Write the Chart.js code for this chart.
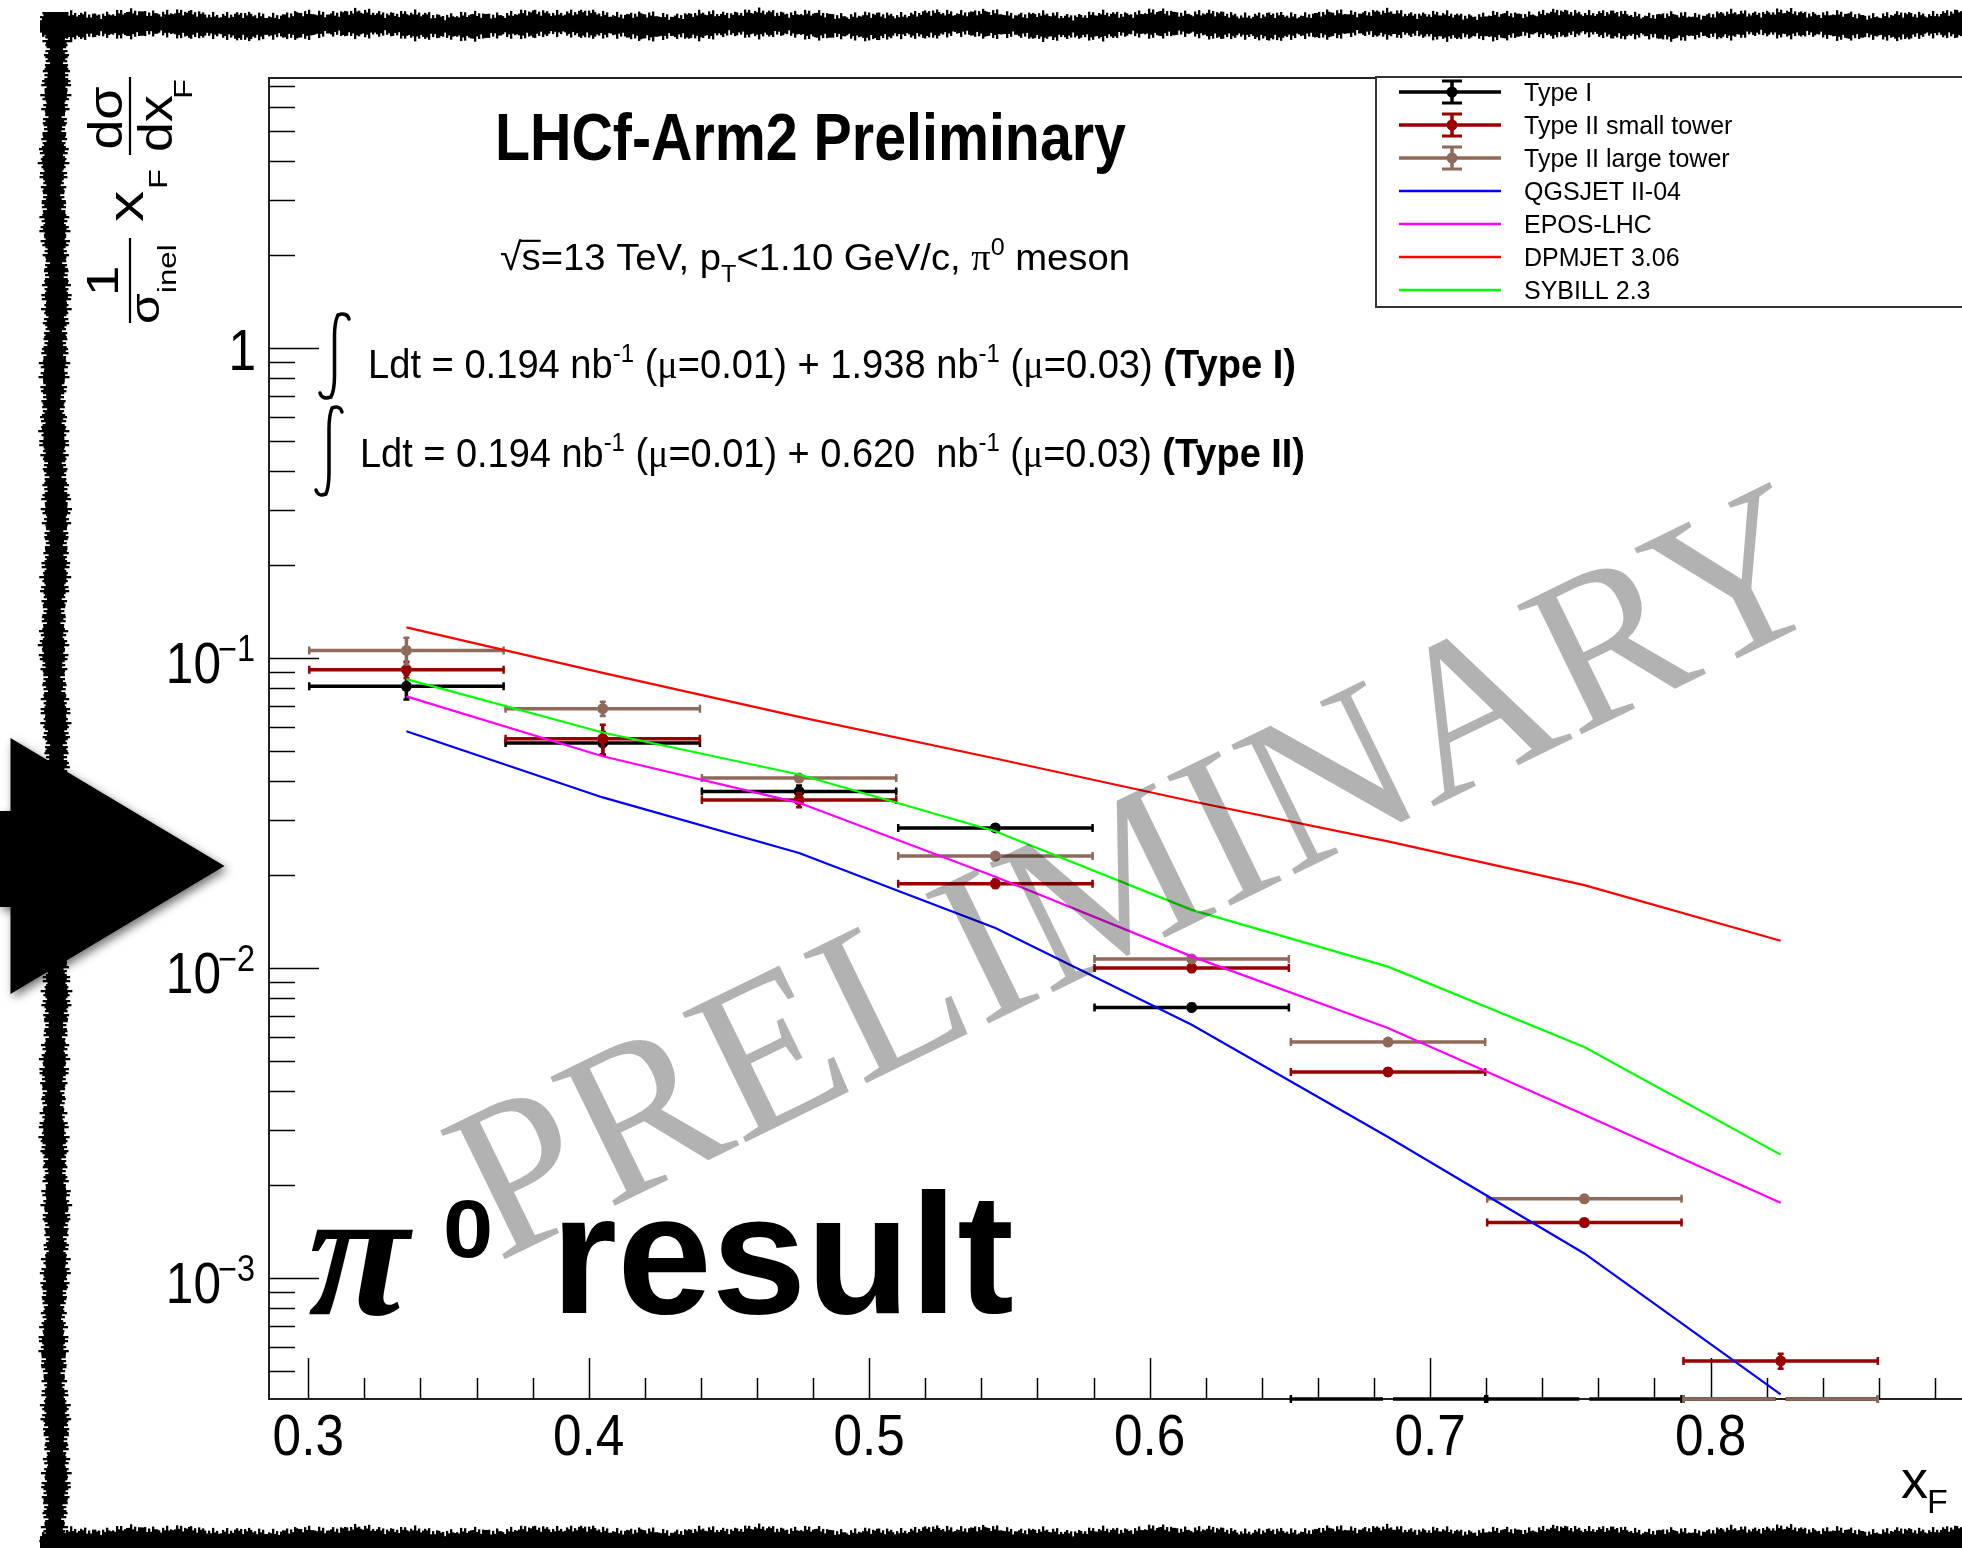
<!DOCTYPE html>
<html>
<head>
<meta charset="utf-8">
<script src="https://cdn.jsdelivr.net/npm/chart.js@4.4.1/dist/chart.umd.min.js"></script>
<style>
  html, body { margin: 0; padding: 0; background: #fff; overflow: hidden; }
  #Wrap { position: absolute; left: 0; top: 0; width: 2100px; height: 1548px; }
</style>
</head>
<body>
<div id="Wrap"><canvas id="myChart"></canvas></div>
<script>
// * Data
const binEdges = [0.30, 0.37, 0.44, 0.51, 0.58, 0.65, 0.72, 0.79, 0.86];
const xF = [0.335, 0.405, 0.475, 0.545, 0.615, 0.685, 0.755, 0.825];

const typeI = [0.081, 0.0532, 0.0371, 0.0283, 0.00746, 0, 0, 0];
const typeIErr = [0.0075, 0.0045, 0.0017, 0.0006, 0.0002, 0, 0, 0];
const typeIISmall = [0.0917, 0.0549, 0.0348, 0.0187, 0.0100, 0.00462, 0.00151, 0.00054];
const typeIISmallErr = [0.0055, 0.006, 0.0018, 0.0006, 0.0003, 0.00012, 0.00004, 0.00003];
const typeIILarge = [0.1058, 0.0686, 0.0410, 0.02296, 0.0107, 0.00577, 0.0018, 0];
const typeIILargeErr = [0.0105, 0.0036, 0.0009, 0.0004, 0.0002, 0.0001, 0.00004, 0];

const qgsjet = [0.058, 0.0355, 0.0235, 0.01346, 0.00656, 0.00285, 0.0012, 0.000421];
const epos = [0.0752, 0.0482, 0.0341, 0.0197, 0.0109, 0.0064, 0.00336, 0.00175];
const dpmjet = [0.1256, 0.0895, 0.0646, 0.0474, 0.0345, 0.0256, 0.0185, 0.01224];
const sybill = [0.0855, 0.0575, 0.0421, 0.0276, 0.0154, 0.0101, 0.00556, 0.0025];

const xTickValues = [0.3, 0.4, 0.5, 0.6, 0.7, 0.8];
const xTickLabels = ["0.3", "0.4", "0.5", "0.6", "0.7", "0.8"];
const yTickValues = [0.001, 0.01, 0.1, 1];
const yTickExponents = ["\u22123", "\u22122", "\u22121", ""];

const SANS = "'Liberation Sans', Arial, sans-serif";
const SERIF = "'Liberation Serif', 'Times New Roman', serif";

// * Helpers
function points(values) {
  return values.map((v, i) => ({ x: xF[i], y: v }));
}

function dataSet(label, values, errors, color, order) {
  return {
    label: label,
    data: points(values),
    yErr: errors,
    showLine: false,
    borderColor: color,
    backgroundColor: color,
    pointRadius: (c) => (c.raw && c.raw.y > 0 ? 5.5 : 0),
    pointBorderWidth: 0,
    order: order,
  };
}

function modelSet(label, values, color) {
  return {
    label: label,
    data: points(values),
    showLine: true,
    borderColor: color,
    backgroundColor: color,
    borderWidth: 2.2,
    pointRadius: 0,
    tension: 0,
    order: 1,
  };
}

function text(ctx, s, x, y, font, sx, align, sy) {
  ctx.save();
  ctx.font = font;
  ctx.textAlign = align || "left";
  ctx.textBaseline = "alphabetic";
  ctx.translate(x, y);
  ctx.scale(sx || 1, sy || 1);
  ctx.fillText(s, 0, 0);
  ctx.restore();
}

// draws a run of text pieces squeezed into targetWidth
function richText(ctx, runs, x, y, targetWidth, sy) {
  let total = 0;
  runs.forEach((r) => {
    ctx.font = r.f;
    r.w = ctx.measureText(r.t).width;
    total += r.w;
  });
  const sx = targetWidth ? targetWidth / total : 1;
  ctx.save();
  ctx.translate(x, y);
  ctx.scale(sx, sy || 1);
  ctx.textAlign = "left";
  ctx.textBaseline = "alphabetic";
  let cx = 0;
  runs.forEach((r) => {
    ctx.font = r.f;
    ctx.fillText(r.t, cx, r.dy || 0);
    if (r.over) {
      ctx.lineWidth = 2;
      ctx.beginPath();
      ctx.moveTo(cx - 2, -27);
      ctx.lineTo(cx + r.w, -27);
      ctx.stroke();
    }
    cx += r.w;
  });
  ctx.restore();
}

function integralSign(ctx, x0, yTop, x1, yBot) {
  const w = x1 - x0;
  ctx.save();
  ctx.lineWidth = 3.5;
  ctx.lineCap = "round";
  ctx.beginPath();
  ctx.moveTo(x1, yTop + 7);
  ctx.quadraticCurveTo(x1 - 2, yTop, x0 + w * 0.62, yTop + 3);
  ctx.quadraticCurveTo(x0 + w * 0.5, yTop + 10, x0 + w * 0.5, yTop + 24);
  ctx.lineTo(x0 + w * 0.5, yBot - 24);
  ctx.quadraticCurveTo(x0 + w * 0.5, yBot - 10, x0 + w * 0.38, yBot - 3);
  ctx.quadraticCurveTo(x0 + 2, yBot, x0, yBot - 7);
  ctx.stroke();
  ctx.restore();
}

function roughH(ctx, x0, x1, yc, half) {
  for (let x = x0; x < x1; x += 2) {
    const a = half + 2.2 * Math.sin(x * 1.37) + 1.6 * Math.sin(x * 0.53 + 2) + 1.2 * Math.sin(x * 0.11);
    const o = 1.5 * Math.sin(x * 0.031);
    ctx.fillRect(x, yc + o - a, 2.3, 2 * a);
  }
}

function roughV(ctx, y0, y1, xc, half) {
  for (let y = y0; y < y1; y += 2) {
    const a = half + 2.2 * Math.sin(y * 1.29) + 1.6 * Math.sin(y * 0.47 + 1) + 1.2 * Math.sin(y * 0.09);
    const o = 1.5 * Math.sin(y * 0.027);
    ctx.fillRect(xc + o - a, y, 2 * a, 2.3);
  }
}

// * Plugins
const rootFrame = {
  id: "rootFrame",
  beforeDatasetsDraw(chart) {
    const ctx = chart.ctx;
    const a = chart.chartArea;
    const xs = chart.scales.x;
    const ys = chart.scales.y;
    ctx.save();
    ctx.strokeStyle = "#222";
    ctx.lineWidth = 2;
    ctx.beginPath();
    ctx.moveTo(a.right, a.top);
    ctx.lineTo(a.left, a.top);
    ctx.lineTo(a.left, a.bottom);
    ctx.lineTo(a.right, a.bottom);
    ctx.stroke();

    ctx.lineWidth = 1.5;
    ctx.strokeStyle = "#000";
    // x ticks every 0.02
    for (let j = 0; j <= 30; j++) {
      const v = 0.3 + 0.02 * j;
      const px = Math.round(xs.getPixelForValue(v)) + 0.5;
      const len = j % 5 === 0 ? 41 : 21;
      ctx.beginPath();
      ctx.moveTo(px, a.bottom);
      ctx.lineTo(px, a.bottom - len);
      ctx.stroke();
    }
    // y ticks log
    for (let e = -4; e <= 0; e++) {
      for (let k = 1; k <= 9; k++) {
        const v = k * Math.pow(10, e);
        if (v < ys.min || v > ys.max) continue;
        const py = Math.round(ys.getPixelForValue(v)) + 0.5;
        const len = k === 1 ? 50 : 26;
        ctx.beginPath();
        ctx.moveTo(a.left, py);
        ctx.lineTo(a.left + len, py);
        ctx.stroke();
      }
    }

    // tick labels
    ctx.fillStyle = "#000";
    xTickValues.forEach((v, i) => {
      text(ctx, xTickLabels[i], xs.getPixelForValue(v), 1455, "57px " + SANS, 0.9, "center");
    });
    yTickValues.forEach((v, i) => {
      const py = ys.getPixelForValue(v);
      if (yTickExponents[i] === "") {
        text(ctx, "1", 256, py + 22, "57px " + SANS, 0.87, "right");
      } else {
        text(ctx, yTickExponents[i], 255, py + 3, "36px " + SANS, 0.9, "right");
        text(ctx, "10", 221, py + 25, "57px " + SANS, 0.87, "right");
      }
    });
    ctx.restore();
  },
};

const errorBars = {
  id: "errorBars",
  beforeDatasetDraw(chart, args) {
    const ds = chart.data.datasets[args.index];
    if (!ds.yErr) return;
    const ctx = chart.ctx;
    const xs = chart.scales.x;
    const ys = chart.scales.y;
    const gap = 5;
    ctx.save();
    ctx.strokeStyle = ds.borderColor;
    ds.data.forEach((p, i) => {
      const py = p.y > 0 ? ys.getPixelForValue(p.y) : ys.bottom;
      const xl = xs.getPixelForValue(binEdges[i]);
      const xr = xs.getPixelForValue(binEdges[i + 1]);
      const xc = xs.getPixelForValue(p.x);
      ctx.lineWidth = 3.5;
      ctx.beginPath();
      ctx.moveTo(xl, py);
      ctx.lineTo(xc - gap, py);
      ctx.moveTo(xc + gap, py);
      ctx.lineTo(xr, py);
      ctx.stroke();
      ctx.lineWidth = 2.5;
      ctx.beginPath();
      ctx.moveTo(xl + 1, py - 4);
      ctx.lineTo(xl + 1, py + 4);
      ctx.moveTo(xr - 1, py - 4);
      ctx.lineTo(xr - 1, py + 4);
      ctx.stroke();
      const err = ds.yErr[i];
      if (p.y > 0 && err > 0) {
        const yt = ys.getPixelForValue(p.y + err);
        const yb = ys.getPixelForValue(p.y - err);
        ctx.lineWidth = 3.5;
        ctx.beginPath();
        ctx.moveTo(xc, yt);
        ctx.lineTo(xc, yb);
        ctx.stroke();
        ctx.lineWidth = 2.5;
        ctx.beginPath();
        ctx.moveTo(xc - 3, yt);
        ctx.lineTo(xc + 3, yt);
        ctx.moveTo(xc - 3, yb);
        ctx.lineTo(xc + 3, yb);
        ctx.stroke();
      }
    });
    ctx.restore();
  },
};

const overlay = {
  id: "overlay",
  afterDraw(chart) {
    const ctx = chart.ctx;
    ctx.save();
    ctx.fillStyle = "#000";
    ctx.strokeStyle = "#000";

    // legend
    ctx.fillStyle = "#fff";
    ctx.fillRect(1376, 77, 800, 230);
    ctx.strokeStyle = "#333";
    ctx.lineWidth = 2;
    ctx.strokeRect(1376, 77, 800, 230);
    chart.data.datasets.forEach((ds, i) => {
      const y = 92 + i * 33;
      ctx.strokeStyle = ds.borderColor;
      ctx.fillStyle = ds.borderColor;
      if (ds.yErr) {
        ctx.lineWidth = 3.5;
        ctx.beginPath();
        ctx.moveTo(1399, y);
        ctx.lineTo(1501, y);
        ctx.moveTo(1452, y - 11);
        ctx.lineTo(1452, y + 11);
        ctx.stroke();
        ctx.lineWidth = 3;
        ctx.beginPath();
        ctx.moveTo(1442, y - 11);
        ctx.lineTo(1462, y - 11);
        ctx.moveTo(1442, y + 11);
        ctx.lineTo(1462, y + 11);
        ctx.stroke();
        ctx.beginPath();
        ctx.arc(1452, y, 5.5, 0, Math.PI * 2);
        ctx.fill();
      } else {
        ctx.lineWidth = 2.5;
        ctx.beginPath();
        ctx.moveTo(1399, y);
        ctx.lineTo(1501, y);
        ctx.stroke();
      }
      ctx.fillStyle = "#000";
      text(ctx, ds.label, 1524, y + 9, "25px " + SANS, 1);
    });

    ctx.fillStyle = "#000";
    ctx.strokeStyle = "#000";

    // title and texts
    richText(ctx, [{ t: "LHCf-Arm2 Preliminary", f: "bold 66px " + SANS }], 495, 160, 631);
    richText(ctx, [
      { t: "\u221A", f: "36px " + SANS },
      { t: "s", f: "35px " + SANS, over: true },
      { t: "=13 TeV, p", f: "35px " + SANS },
      { t: "T", f: "23px " + SANS, dy: 11 },
      { t: "<1.10 GeV/c, ", f: "35px " + SANS },
      { t: "\u03C0", f: "35px " + SERIF },
      { t: "0", f: "23px " + SANS, dy: -14 },
      { t: " meson", f: "35px " + SANS },
    ], 500, 270, 630, 1.08);

    integralSign(ctx, 320, 312, 349, 400);
    richText(ctx, [
      { t: "Ldt = 0.194 nb", f: "35px " + SANS },
      { t: "-1", f: "22px " + SANS, dy: -14 },
      { t: " (", f: "35px " + SANS },
      { t: "\u03BC", f: "35px " + SERIF },
      { t: "=0.01) + 1.938 nb", f: "35px " + SANS },
      { t: "-1", f: "22px " + SANS, dy: -14 },
      { t: " (", f: "35px " + SANS },
      { t: "\u03BC", f: "35px " + SERIF },
      { t: "=0.03) ", f: "35px " + SANS },
      { t: "(Type I)", f: "bold 35px " + SANS },
    ], 368, 378, 928, 1.15);

    integralSign(ctx, 316, 405, 342, 497);
    richText(ctx, [
      { t: "Ldt = 0.194 nb", f: "35px " + SANS },
      { t: "-1", f: "22px " + SANS, dy: -14 },
      { t: " (", f: "35px " + SANS },
      { t: "\u03BC", f: "35px " + SERIF },
      { t: "=0.01) + 0.620  nb", f: "35px " + SANS },
      { t: "-1", f: "22px " + SANS, dy: -14 },
      { t: " (", f: "35px " + SANS },
      { t: "\u03BC", f: "35px " + SERIF },
      { t: "=0.03) ", f: "35px " + SANS },
      { t: "(Type II)", f: "bold 35px " + SANS },
    ], 360, 467, 945, 1.15);

    // x axis title
    text(ctx, "x", 1901, 1498, "54px " + SANS, 1);
    text(ctx, "F", 1927, 1513, "34px " + SANS, 1);

    // y axis title, rotated
    ctx.save();
    ctx.rotate(-Math.PI / 2);
    const rt = (s, font, px, py, align, sx) => text(ctx, s, px, py, font, sx || 1.25, align);
    ctx.lineWidth = 2.2;
    ctx.beginPath();
    ctx.moveTo(-323, 130);
    ctx.lineTo(-238, 130);
    ctx.moveTo(-155, 130);
    ctx.lineTo(-77, 130);
    ctx.stroke();
    rt("1", "44px " + SANS, -281, 118, "center");
    rt("\u03C3", "40px " + SANS, -324, 159, "left");
    rt("inel", "25px " + SANS, -293, 176, "left");
    rt("x", "50px " + SANS, -222, 143, "left");
    rt("F", "26px " + SANS, -189, 167, "left");
    rt("d\u03C3", "48px " + SANS, -118, 122, "center", 1.12);
    rt("dx", "48px " + SANS, -152, 172, "left", 1.12);
    rt("F", "26px " + SANS, -99, 192, "left");
    ctx.restore();

    // watermark
    ctx.save();
    ctx.translate(1168, 936);
    ctx.rotate((-26 * Math.PI) / 180);
    ctx.fillStyle = "rgba(0,0,0,0.3)";
    ctx.font = "220px " + SERIF;
    ctx.textAlign = "center";
    ctx.fillText("PRELIMINARY", 0, 0);
    ctx.restore();

    // big label
    ctx.fillStyle = "#000";
    text(ctx, "\u03C0", 308, 1314, "italic bold 185px " + SERIF, 1);
    text(ctx, "0", 443, 1257, "bold 82px " + SANS, 1.1);
    text(ctx, "result", 551, 1313, "bold 170px " + SANS, 1);

    // rough frame
    roughH(ctx, 40, 2100, 25, 11);
    roughV(ctx, 12, 1548, 55, 11);
    roughH(ctx, 40, 2100, 1543, 13);

    // arrow
    ctx.save();
    ctx.shadowColor = "rgba(0,0,0,0.55)";
    ctx.shadowBlur = 10;
    ctx.shadowOffsetX = 3;
    ctx.shadowOffsetY = 4;
    ctx.beginPath();
    ctx.moveTo(0, 811);
    ctx.lineTo(10.5, 811);
    ctx.lineTo(10.5, 738);
    ctx.lineTo(224.5, 866);
    ctx.lineTo(10.5, 994);
    ctx.lineTo(10.5, 907);
    ctx.lineTo(0, 907);
    ctx.closePath();
    ctx.fill();
    ctx.restore();

    ctx.restore();
  },
};

// * Chart
const Canvas = document.getElementById("myChart").getContext("2d");

const data = {
  datasets: [
    dataSet("Type I", typeI, typeIErr, "#000000", 4),
    dataSet("Type II small tower", typeIISmall, typeIISmallErr, "#990000", 3),
    dataSet("Type II large tower", typeIILarge, typeIILargeErr, "#8f6a5a", 2),
    modelSet("QGSJET II-04", qgsjet, "#0000ff"),
    modelSet("EPOS-LHC", epos, "#ff00ff"),
    modelSet("DPMJET 3.06", dpmjet, "#ff0000"),
    modelSet("SYBILL 2.3", sybill, "#00ff00"),
  ],
};

const config = {
  type: "scatter",
  data: data,
  options: {
    responsive: true,
    maintainAspectRatio: false,
    animation: false,
    layout: { padding: { left: 269, top: 78, right: 109, bottom: 149 } },
    scales: {
      x: { type: "linear", min: 0.286, max: 0.9, display: false },
      y: { type: "logarithmic", min: 4.07e-4, max: 7.43, display: false },
    },
    plugins: {
      legend: { display: false },
      tooltip: { enabled: false },
    },
  },
  plugins: [rootFrame, errorBars, overlay],
};

const myChart = new Chart(Canvas, config);
</script>
</body>
</html>
